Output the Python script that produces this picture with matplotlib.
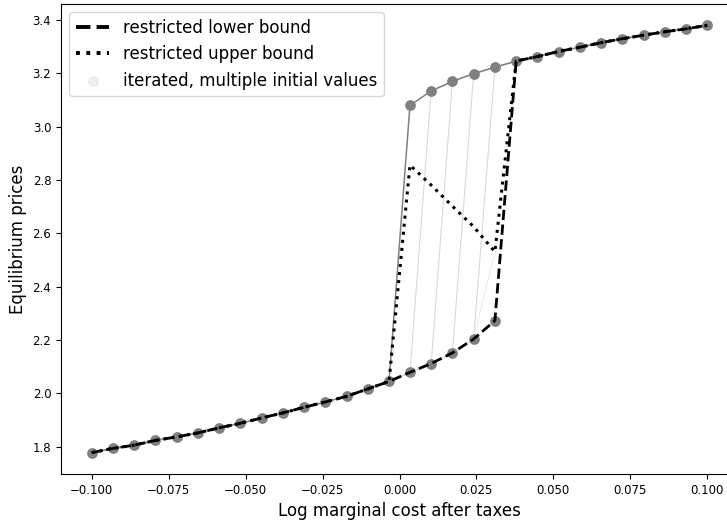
import matplotlib
matplotlib.use("Agg")
import matplotlib.pyplot as plt

# grid of log marginal cost after taxes
x_grid = [-0.1000, -0.0931, -0.0862, -0.0793, -0.0724, -0.0655, -0.0586, -0.0517,
          -0.0448, -0.0379, -0.0310, -0.0241, -0.0172, -0.0103, -0.0034, 0.0034,
          0.0103, 0.0172, 0.0241, 0.0310, 0.0379, 0.0448, 0.0517, 0.0586,
          0.0655, 0.0724, 0.0793, 0.0862, 0.0931, 0.1000]

# low-price equilibria (grid points 0..19)
p_low = [1.778, 1.794, 1.806, 1.824, 1.837, 1.852, 1.871, 1.888, 1.908, 1.927,
         1.948, 1.968, 1.989, 2.017, 2.045, 2.079, 2.112, 2.152, 2.204, 2.273]
# high-price equilibria (grid points 15..29)
p_high = [3.080, 3.134, 3.170, 3.199, 3.223, 3.246, 3.263, 3.282, 3.298, 3.315,
          3.330, 3.343, 3.356, 3.367, 3.380]
# restricted upper bound inside the multiplicity region (grid points 15..19)
p_ub_mid = [2.856, 2.781, 2.702, 2.625, 2.531]

JUMP = 15  # first grid point with a high equilibrium
LAST_LOW = len(p_low)  # first grid point with only the high equilibrium

lower_bound = p_low + p_high[LAST_LOW - JUMP:]
upper_bound = p_low[:JUMP] + p_ub_mid + p_high[LAST_LOW - JUMP:]
iter_main = p_low[:JUMP] + p_high

fig = plt.figure(figsize=(7.27, 5.21), dpi=100)
ax = fig.add_axes([61 / 727, 47 / 521, 677 / 727, 470 / 521])

# iterated paths that jump later (one per initial value)
for k in range(JUMP, LAST_LOW - 1):
    path = p_low[:k + 1] + p_high[k + 1 - JUMP:]
    ax.plot(x_grid, path, color='0.85', lw=0.8, zorder=1)
# faint path through the restricted upper bound
ax.plot([x_grid[LAST_LOW - 2], x_grid[LAST_LOW - 1]],
        [p_low[LAST_LOW - 2], p_ub_mid[-1]], color='0.93', lw=0.8, zorder=1)

ax.plot(x_grid, iter_main, color='gray', lw=1.1, zorder=2)
pts_x = x_grid[:LAST_LOW] + x_grid[JUMP:]
pts_y = p_low + p_high
sc = ax.scatter(pts_x, pts_y, s=45, color='gray', zorder=3,
                label='iterated, multiple initial values')

l1, = ax.plot(x_grid, lower_bound, 'k--', lw=2, zorder=4, label='restricted lower bound')
l2, = ax.plot(x_grid, upper_bound, 'k:', lw=2.2, zorder=5, label='restricted upper bound')

ax.set_xlabel('Log marginal cost after taxes', fontsize=12)
ax.set_ylabel('Equilibrium prices', fontsize=12)
ax.tick_params(labelsize=8.5)

leg = ax.legend(handles=[l1, l2, sc], loc='upper left', fontsize=12)
leg.get_lines()[0].set_linewidth(2.8)
leg.get_lines()[1].set_linewidth(2.8)
leg.legend_handles[2].set_alpha(0.12)

fig.savefig('out.png', dpi=100)
